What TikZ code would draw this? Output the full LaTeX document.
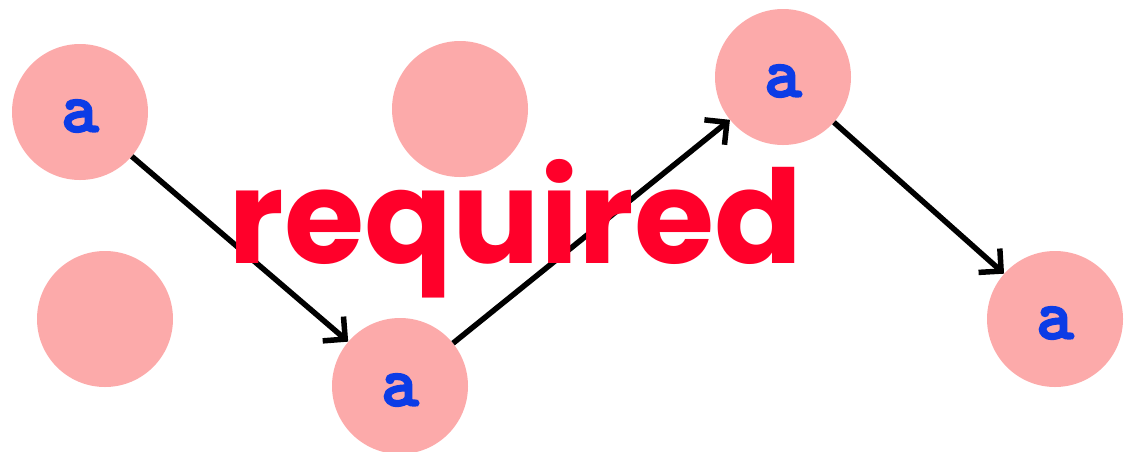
\documentclass[tikz,border=0pt]{standalone}
\usepackage{fontspec}
\usepackage{tikz}
\usetikzlibrary{arrows.meta}
\newfontfamily\wordfont{Poppins}
\newfontfamily\letterfont{lmmonolt10-bold.otf}[FakeBold=2.5]
\definecolor{dotpink}{RGB}{252,170,170}
\definecolor{wordred}{RGB}{255,0,42}
\definecolor{letterblue}{RGB}{12,60,230}

\begin{document}
\begin{tikzpicture}[x=1pt, y=-1pt,
    dot/.style={circle, fill=dotpink, minimum size=136pt, inner sep=0pt},
    lettera/.style={font=\letterfont\fontsize{72}{72}\selectfont, text=letterblue, yshift=-4pt},
    hop/.style={line width=5.5pt, -{Straight Barb[length=16pt, width=32pt]}}]
      \useasboundingbox (0,0) rectangle (1124,451);
      \node[dot, label={[lettera]center:a}] (start) at (80,112) {};
      \node[dot] (blankup) at (460,109) {};
      \node[dot, label={[lettera]center:a}] (peak) at (783,77) {};
      \node[dot] (blanklow) at (105,319) {};
      \node[dot, label={[lettera]center:a}] (valley) at (400,386) {};
      \node[dot, label={[lettera]center:a}] (finish) at (1055,319) {};
      \draw[hop] (start) -- (valley);
      \draw[hop] (valley) -- (peak);
      \draw[hop] (peak) -- (finish);
      \node[anchor=base, inner sep=0pt, text=wordred, font=\wordfont\bfseries\fontsize{130}{130}\selectfont] (word) at (515.5,263) {required};
    \end{tikzpicture}
\end{document}
